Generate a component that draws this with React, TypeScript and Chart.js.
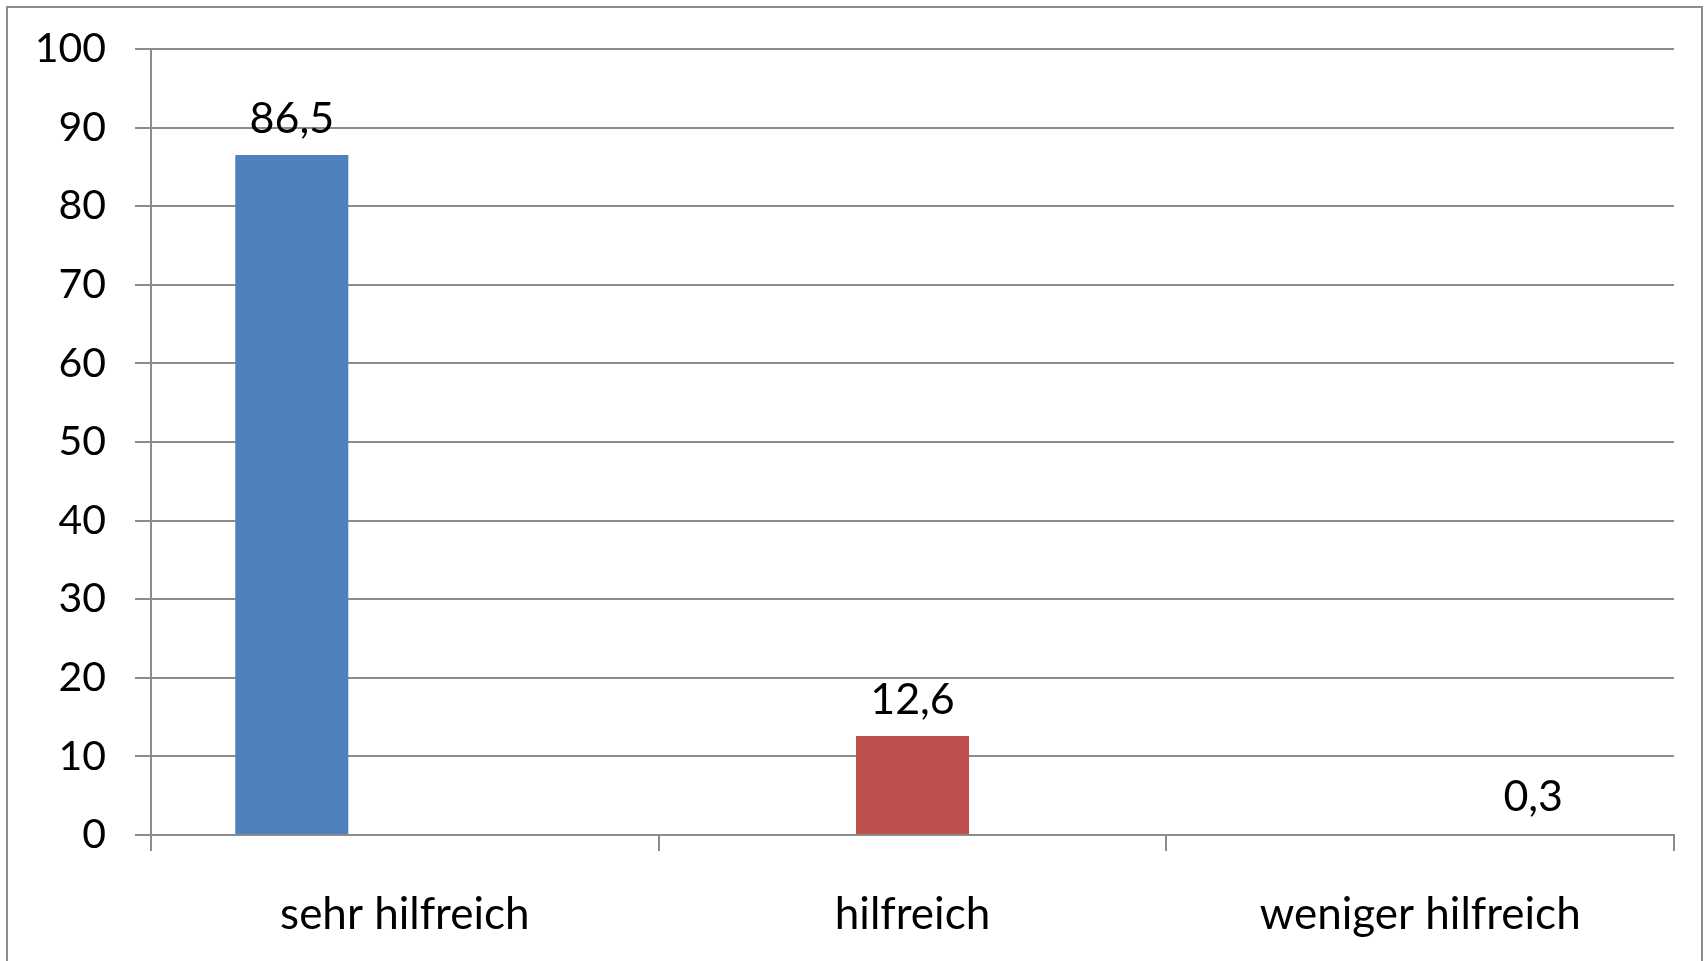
import React, { useEffect, useRef } from "react";
import { Chart, registerables } from "chart.js";

Chart.register(...registerables);

const categories = ["sehr hilfreich", "hilfreich", "weniger hilfreich"];
const seriesSehrHilfreich = [86.5, null, null];
const seriesHilfreich = [null, 12.6, null];
const seriesWenigerHilfreich = [null, null, 0.3];
const yMin = 0;
const yMax = 100;
const yStep = 10;

const GRID = "#8c8c8c";
const FONT = "Lato, 'Open Sans', sans-serif";

const borderPlugin = {
  id: "outerBorder",
  beforeDraw(chart: any) {
    const ctx = chart.ctx;
    ctx.save();
    ctx.fillStyle = "#ffffff";
    ctx.fillRect(0, 0, chart.width, chart.height);
    ctx.strokeStyle = GRID;
    ctx.lineWidth = 2;
    ctx.strokeRect(7, 7, chart.width - 12, chart.height + 10);
    ctx.restore();
  },
};

const labelPlugin = {
  id: "valueLabels",
  afterDatasetsDraw(chart: any) {
    const ctx = chart.ctx;
    ctx.save();
    ctx.fillStyle = "#000000";
    ctx.font = `43px ${FONT}`;
    ctx.textAlign = "center";
    ctx.textBaseline = "middle";
    chart.data.datasets.forEach((ds: any, i: number) => {
      const meta = chart.getDatasetMeta(i);
      meta.data.forEach((bar: any, j: number) => {
        const v = ds.data[j];
        if (v == null) return;
        const txt = String(v).replace(".", ",");
        ctx.fillText(txt, bar.x, bar.y - 36);
      });
    });
    ctx.restore();
  },
};

export default function App() {
  const ref = useRef<HTMLCanvasElement>(null);
  useEffect(() => {
    if (!ref.current) return;
    const chart = new Chart(ref.current, {
      type: "bar",
      data: {
        labels: categories,
        datasets: [
          { label: "sehr hilfreich", data: seriesSehrHilfreich, backgroundColor: "#4F81BD" },
          { label: "hilfreich", data: seriesHilfreich, backgroundColor: "#C0504D" },
          { label: "weniger hilfreich", data: seriesWenigerHilfreich, backgroundColor: "rgba(155,187,89,0)" },
        ],
      },
      options: {
        responsive: false,
        animation: false,
        events: [],
        datasets: { bar: { categoryPercentage: 0.668, barPercentage: 1 } },
        layout: { padding: { top: 49, right: 33, bottom: 0, left: 0 } },
        plugins: { legend: { display: false }, tooltip: { enabled: false } },
        scales: {
          x: {
            grid: { drawOnChartArea: false, tickLength: 16, color: GRID, lineWidth: 2, offset: true },
            border: { color: GRID, width: 2 },
            ticks: { color: "#000", font: { family: FONT, size: 44 }, padding: 37, maxRotation: 0 },
            afterFit: (s: any) => { s.height = 126; s.paddingLeft = 0; s.paddingRight = 0; },
          },
          y: {
            min: yMin,
            max: yMax,
            ticks: { stepSize: yStep, color: "#000", font: { family: FONT, size: 41 }, padding: 29 },
            grid: { tickLength: 16, color: GRID, lineWidth: 2 },
            border: { color: GRID, width: 2 },
            afterFit: (s: any) => { s.width = 151; s.paddingTop = 0; s.paddingBottom = 0; },
          },
        },
      },
      plugins: [borderPlugin, labelPlugin],
    });
    return () => chart.destroy();
  }, []);
  return (
    <div style={{ position: "fixed", left: 0, top: 0, width: 1707, height: 961, background: "#fff" }}>
      <canvas ref={ref} width={1707} height={961} />
    </div>
  );
}
